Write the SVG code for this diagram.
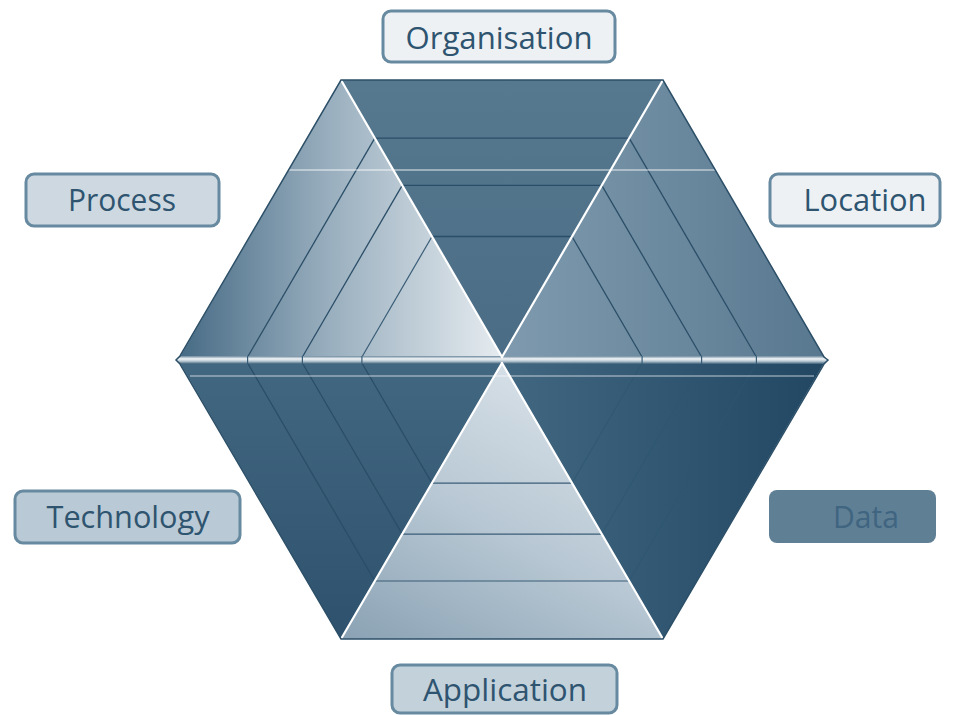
<svg xmlns="http://www.w3.org/2000/svg" width="966" height="715" viewBox="0 0 966 715">
<defs>
<linearGradient id="gOrg" x1="0" y1="0" x2="0" y2="1"><stop offset="0" stop-color="#56798f"/><stop offset="1" stop-color="#4a6c85"/></linearGradient>
<linearGradient id="gLoc" x1="0" y1="0" x2="1" y2="0"><stop offset="0" stop-color="#7f9aae"/><stop offset="0.5" stop-color="#6c8a9f"/><stop offset="1" stop-color="#587890"/></linearGradient>
<linearGradient id="gProc" x1="0" y1="0" x2="1" y2="0"><stop offset="0" stop-color="#476b85"/><stop offset="0.45" stop-color="#97adbd"/><stop offset="1" stop-color="#e6ecf0"/></linearGradient>
<linearGradient id="gTech" x1="0" y1="0" x2="0" y2="1"><stop offset="0" stop-color="#426781"/><stop offset="1" stop-color="#2e526d"/></linearGradient>
<linearGradient id="gData" x1="0" y1="0" x2="1" y2="0"><stop offset="0" stop-color="#416781"/><stop offset="1" stop-color="#214763"/></linearGradient>
<linearGradient id="gApp" x1="0" y1="1" x2="0.6" y2="0"><stop offset="0" stop-color="#8aa2b4"/><stop offset="0.5" stop-color="#b7c7d3"/><stop offset="1" stop-color="#d8e1e8"/></linearGradient>
<linearGradient id="gBevel" x1="0" y1="0" x2="0" y2="1"><stop offset="0" stop-color="#6a889d"/><stop offset="0.35" stop-color="#f2f5f7"/><stop offset="0.65" stop-color="#b8c8d3"/><stop offset="1" stop-color="#3a5e78"/></linearGradient>
<style>
.band{fill:none;stroke:#2b4e68;stroke-width:1.3}
.bandL{fill:none;stroke:#3a5d77;stroke-width:1.2}
.bandF{fill:none;stroke:#2f5672;stroke-width:1.2;opacity:0.6}
.hl{fill:none;stroke:#ffffff;stroke-width:2.2;stroke-linecap:round}
.edge{fill:none;stroke:#2c4f68;stroke-width:1.5}
.box{stroke:#678aa0;stroke-width:3}
.lbl{font-family:"Open Sans","Liberation Sans",sans-serif;font-size:31px;fill:#2e5470;text-anchor:middle}
</style>
</defs>
<rect width="966" height="715" fill="#ffffff"/>

<g id="tri-organisation">
<polygon points="502,357 341,80 663,80" fill="url(#gOrg)"/>
<line class="band" x1="374.8" y1="138.2" x2="629.2" y2="138.2"/>
<line class="band" x1="402.2" y1="185.3" x2="601.8" y2="185.3"/>
<line class="band" x1="432" y1="236.5" x2="572" y2="236.5"/>
</g>

<g id="tri-location">
<polygon points="502,357 663,80 824,357" fill="url(#gLoc)"/>
<line class="band" x1="629.2" y1="138.2" x2="756.4" y2="357"/>
<line class="band" x1="601.8" y1="185.3" x2="701.6" y2="357"/>
<line class="band" x1="572" y1="236.5" x2="642.1" y2="357"/>
</g>

<g id="tri-process">
<polygon points="502,357 180,357 341,80" fill="url(#gProc)"/>
<line class="band" x1="374.8" y1="138.2" x2="247.6" y2="357"/>
<line class="band" x1="402.2" y1="185.3" x2="302.4" y2="357"/>
<line class="bandL" x1="432" y1="236.5" x2="361.9" y2="357"/>
</g>

<g id="tri-technology">
<polygon points="502,363 341,639 180,363" fill="url(#gTech)"/>
<line class="band" x1="247.6" y1="363" x2="374.8" y2="581"/>
<line class="band" x1="302.4" y1="363" x2="402.2" y2="534.1"/>
<line class="band" x1="361.9" y1="363" x2="432" y2="483.1"/>
</g>

<g id="tri-data">
<polygon points="502,363 824,363 663,639" fill="url(#gData)"/>
<line class="bandF" x1="756.4" y1="363" x2="629.2" y2="581"/>
<line class="bandF" x1="701.6" y1="363" x2="601.8" y2="534.1"/>
<line class="bandF" x1="642.1" y1="363" x2="572" y2="483.1"/>
</g>

<g id="tri-application">
<polygon points="502,363 663,639 341,639" fill="url(#gApp)"/>
<line class="bandL" x1="374.8" y1="581" x2="629.2" y2="581"/>
<line class="bandL" x1="402.2" y1="534.1" x2="601.8" y2="534.1"/>
<line class="bandL" x1="432" y1="483.1" x2="572" y2="483.1"/>
</g>

<g id="connectors">
<polygon points="180,356 824,356 828,360 824,364 180,364 176,360" fill="url(#gBevel)"/>
<g stroke="#3a5d77" stroke-width="1.2">
<line x1="247.6" y1="356" x2="247.6" y2="364"/>
<line x1="302.4" y1="356" x2="302.4" y2="364"/>
<line x1="361.9" y1="356" x2="361.9" y2="364"/>
<line x1="642.1" y1="356" x2="642.1" y2="364"/>
<line x1="701.6" y1="356" x2="701.6" y2="364"/>
<line x1="756.4" y1="356" x2="756.4" y2="364"/>
</g>
<line class="hl" x1="502" y1="357" x2="341" y2="80"/>
<line class="hl" x1="502" y1="357" x2="663" y2="80"/>
<line class="hl" x1="502" y1="363" x2="341" y2="639"/>
<line class="hl" x1="502" y1="363" x2="663" y2="639"/>
<line x1="289" y1="170" x2="715" y2="170" stroke="#ffffff" stroke-width="1.2" opacity="0.85"/>
<line x1="190" y1="376" x2="814" y2="376" stroke="#ffffff" stroke-width="1" opacity="0.7"/>
<polygon class="edge" points="341,80 663,80 824,357 828,360 824,364 663,639 341,639 180,364 176,360 180,356"/>
</g>

<g id="label-organisation">
<rect class="box" x="383" y="11" width="232" height="51" rx="8" fill="#edf1f4"/>
<text class="lbl" x="499" y="49" textLength="187" lengthAdjust="spacingAndGlyphs">Organisation</text>
</g>
<g id="label-process">
<rect class="box" x="26" y="174" width="193" height="52" rx="8" fill="#cdd8e0"/>
<text class="lbl" x="122" y="211" textLength="108" lengthAdjust="spacingAndGlyphs">Process</text>
</g>
<g id="label-location">
<rect class="box" x="770" y="174" width="170" height="52" rx="8" fill="#edf1f4"/>
<text class="lbl" x="865" y="211" textLength="123" lengthAdjust="spacingAndGlyphs">Location</text>
</g>
<g id="label-technology">
<rect class="box" x="15" y="491" width="225" height="52" rx="8" fill="#b9c9d5"/>
<text class="lbl" x="128" y="528" textLength="163" lengthAdjust="spacingAndGlyphs">Technology</text>
</g>
<g id="label-data">
<rect x="769" y="490" width="167" height="53" rx="8" fill="#5f7f95"/>
<text class="lbl" x="866" y="528" style="fill:#3f6581" textLength="66" lengthAdjust="spacingAndGlyphs">Data</text>
</g>
<g id="label-application">
<rect class="box" x="392" y="665" width="225" height="48" rx="8" fill="#c3d1db"/>
<text class="lbl" x="505" y="701" textLength="164" lengthAdjust="spacingAndGlyphs">Application</text>
</g>
</svg>
